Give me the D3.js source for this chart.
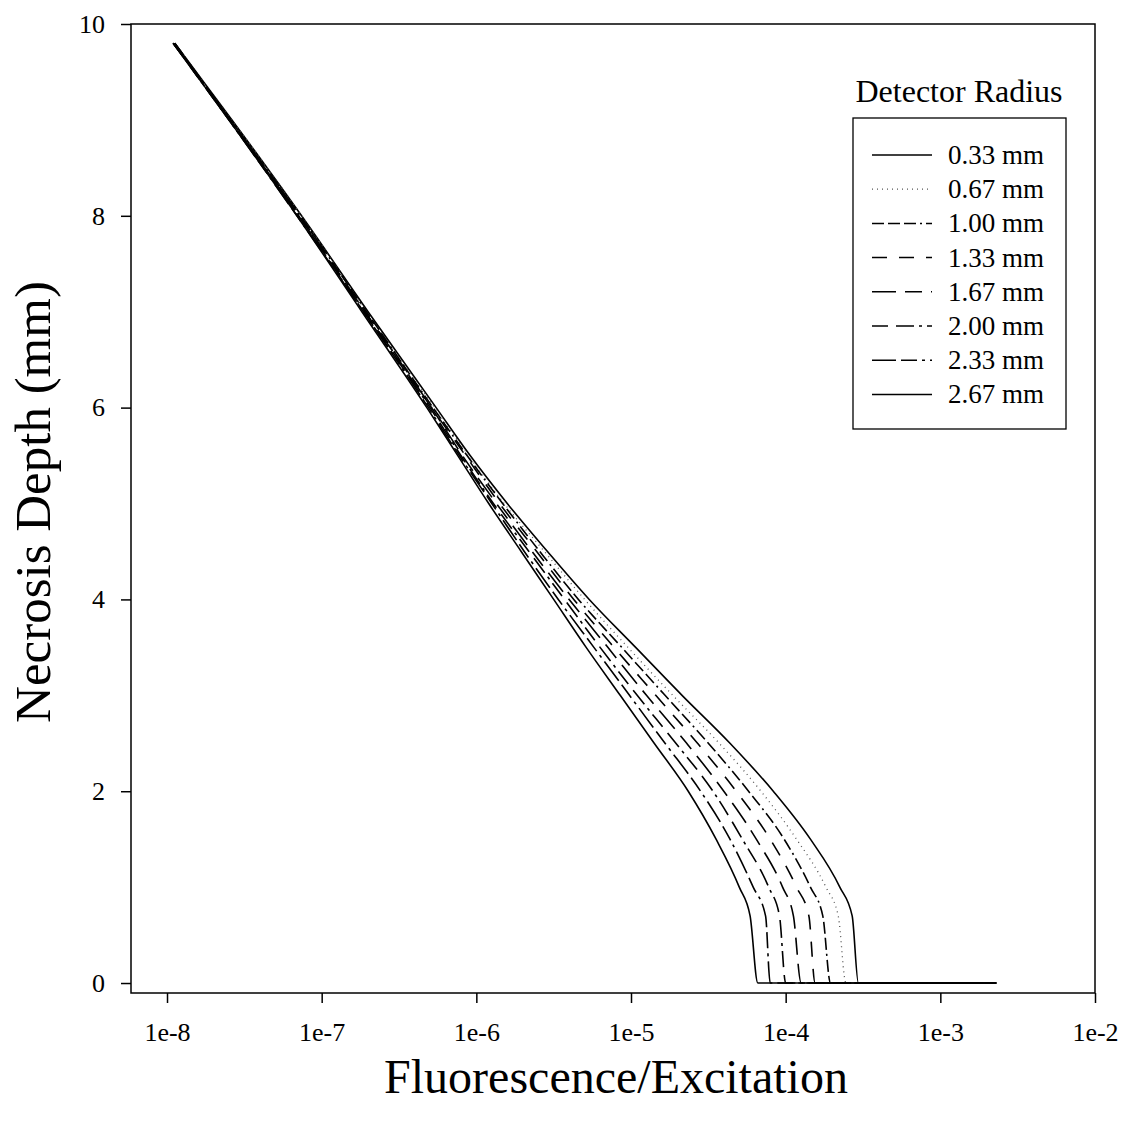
<!DOCTYPE html>
<meta charset='utf-8'>
<style>
	body { margin: 0; background: #fff; }
	text { font-family: 'Liberation Serif', 'Times New Roman', serif; fill: #000; }
</style>
<body>
<div id='container'></div>
<script src='https://cdnjs.cloudflare.com/ajax/libs/d3/7.8.5/d3.min.js'></script>
<script>
	// necrosis depth (mm) shared by every series
	const depths = [0, 0.7, 1.0, 1.5, 2.0, 2.5, 3.0, 3.5, 4.0, 4.5, 5.0, 5.5, 6.0, 7.0, 8.0, 9.0, 9.8];
	// ratio at zero depth (the flat run along the bottom)
	const noNecrosisRatio = 2.3e-3;

	// fluorescence/excitation, stored as log10 exponents, one per depth
	const r033 = [-3.53, -3.57, -3.65, -3.84, -4.08, -4.36, -4.67, -4.97, -5.27, -5.54, -5.80, -6.04, -6.26, -6.70, -7.13, -7.58, -7.95];
	const r067 = [-3.61, -3.66, -3.74, -3.93, -4.16, -4.43, -4.73, -5.02, -5.30, -5.56, -5.82, -6.05, -6.27, -6.71, -7.13, -7.58, -7.95];
	const r100 = [-3.71, -3.76, -3.84, -4.01, -4.24, -4.50, -4.78, -5.06, -5.34, -5.59, -5.83, -6.06, -6.28, -6.71, -7.14, -7.59, -7.95];
	const r133 = [-3.81, -3.85, -3.93, -4.10, -4.32, -4.57, -4.84, -5.11, -5.37, -5.61, -5.85, -6.07, -6.29, -6.72, -7.14, -7.59, -7.95];
	const r167 = [-3.90, -3.95, -4.02, -4.19, -4.40, -4.64, -4.90, -5.15, -5.40, -5.64, -5.87, -6.09, -6.29, -6.72, -7.15, -7.59, -7.96];
	const r200 = [-4.00, -4.04, -4.11, -4.28, -4.47, -4.71, -4.96, -5.20, -5.43, -5.66, -5.89, -6.10, -6.30, -6.73, -7.15, -7.60, -7.96];
	const r233 = [-4.10, -4.13, -4.21, -4.36, -4.55, -4.78, -5.01, -5.24, -5.47, -5.69, -5.90, -6.11, -6.31, -6.73, -7.16, -7.60, -7.96];
	const r267 = [-4.18, -4.23, -4.30, -4.45, -4.63, -4.85, -5.07, -5.29, -5.50, -5.71, -5.92, -6.12, -6.32, -6.74, -7.16, -7.60, -7.96];

	const radiusLabels = ['0.33 mm', '0.67 mm', '1.00 mm', '1.33 mm', '1.67 mm', '2.00 mm', '2.33 mm', '2.67 mm'];
	const xTicks = [1e-8, 1e-7, 1e-6, 1e-5, 1e-4, 1e-3, 1e-2];
	const yTicks = [0, 2, 4, 6, 8, 10];

	const dashes = ['none', '1,4', '12,4,12,4,12,4,2,4', '15,12', '24,9,17,9', '16,8,18,5,3,5', '24,5,16,5,3,5', 'none'];
	const strokes = ['#000', '#555', '#000', '#000', '#000', '#000', '#000', '#000'];

	const series = [r033, r067, r100, r133, r167, r200, r233, r267].map( ( s, i ) => ({
		label: radiusLabels[i],
		points: [[noNecrosisRatio, 0]]
			.concat( s.map( ( e, j ) => [Math.pow( 10, e ), depths[j]] ) )
			.sort( ( a, b ) => a[0] - b[0] ),
	}) );

	const W = 1125, H = 1121;
	const plot = { left: 131, right: 1095, top: 24, bottom: 993 };

	let xScale = d3.scaleLog()
		.domain( [5.85e-9, 1e-2] )
		.range( [plot.left, plot.right] );
	let yScale = d3.scaleLinear()
		.domain( [-0.104, 10] )
		.range( [plot.bottom, plot.top] );

	let svg = d3.select( '#container' )
		.append( 'svg' )
		.attr( 'width', W )
		.attr( 'height', H );

	// frame
	svg.append( 'rect' )
		.attr( 'x', plot.left ).attr( 'y', plot.top )
		.attr( 'width', plot.right - plot.left ).attr( 'height', plot.bottom - plot.top )
		.attr( 'fill', 'none' ).attr( 'stroke', '#000' ).attr( 'stroke-width', 1.5 );

	let xAxis = d3.axisBottom( xScale )
		.tickValues( xTicks )
		.tickSize( 10 )
		.tickPadding( 20 )
		.tickFormat( d => '1e' + Math.round( Math.log10( d ) ) );

	let yAxis = d3.axisLeft( yScale )
		.tickValues( yTicks )
		.tickSize( 10 )
		.tickPadding( 16 );

	let xAxisEl = svg.append( 'g' )
		.attr( 'transform', `translate( 0, ${plot.bottom} )` )
		.call( xAxis );
	let yAxisEl = svg.append( 'g' )
		.attr( 'transform', `translate( ${plot.left}, 0 )` )
		.call( yAxis );

	[xAxisEl, yAxisEl].forEach( g => {
		g.select( '.domain' ).remove();
		g.selectAll( 'line' ).attr( 'stroke', '#000' ).attr( 'stroke-width', 1.5 );
		g.selectAll( 'text' )
			.style( 'font-family', "'Liberation Serif', serif" )
			.style( 'font-size', '26px' )
			.attr( 'fill', '#000' );
	} );

	// curves
	let line = d3.line()
		.x( d => xScale( d[0] ) )
		.y( d => yScale( d[1] ) )
		.curve( d3.curveMonotoneX );

	svg.append( 'g' )
		.selectAll( 'path' )
		.data( series )
		.join( 'path' )
			.attr( 'd', d => line( d.points ) )
			.attr( 'fill', 'none' )
			.attr( 'stroke', ( d, i ) => strokes[i] )
			.attr( 'stroke-width', ( d, i ) => i === 1 ? 1.3 : 1.6 )
			.attr( 'stroke-dasharray', ( d, i ) => dashes[i] );

	// legend
	svg.append( 'text' )
		.attr( 'x', 959 ).attr( 'y', 102 )
		.attr( 'text-anchor', 'middle' )
		.style( 'font-size', '32px' )
		.text( 'Detector Radius' );

	svg.append( 'rect' )
		.attr( 'x', 853 ).attr( 'y', 118 )
		.attr( 'width', 213 ).attr( 'height', 311 )
		.attr( 'fill', '#fff' ).attr( 'stroke', '#000' ).attr( 'stroke-width', 1.3 );

	let legendRows = svg.append( 'g' )
		.selectAll( 'g' )
		.data( series )
		.join( 'g' )
			.attr( 'transform', ( d, i ) => `translate( 0, ${155 + i * 34.2} )` );

	legendRows.append( 'line' )
		.attr( 'x1', 872 ).attr( 'x2', 932 )
		.attr( 'stroke', ( d, i ) => strokes[i] )
		.attr( 'stroke-width', ( d, i ) => i === 1 ? 1.3 : 1.5 )
		.attr( 'stroke-dasharray', ( d, i ) => dashes[i] );

	legendRows.append( 'text' )
		.attr( 'x', 948 ).attr( 'y', 9 )
		.style( 'font-size', '27px' )
		.text( d => d.label );

	// axis titles
	svg.append( 'text' )
		.attr( 'x', 616 ).attr( 'y', 1093 )
		.attr( 'text-anchor', 'middle' )
		.style( 'font-size', '48px' )
		.text( 'Fluorescence/Excitation' );

	svg.append( 'text' )
		.attr( 'transform', 'translate( 50, 502 ) rotate( -90 )' )
		.attr( 'text-anchor', 'middle' )
		.style( 'font-size', '51px' )
		.text( 'Necrosis Depth (mm)' );
</script>
</body>
